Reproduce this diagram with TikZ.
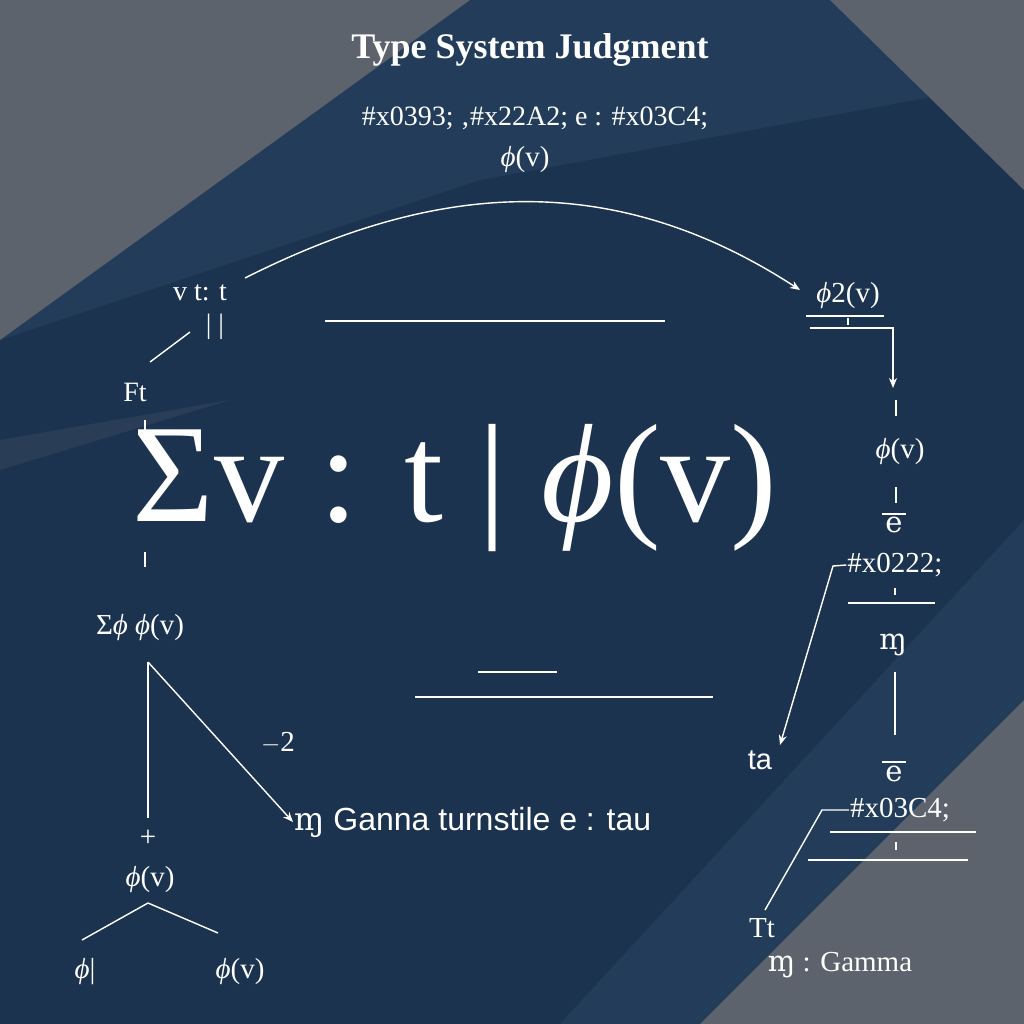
\documentclass[tikz,border=0pt]{standalone}
\usepackage{fontspec}
\setmainfont{Liberation Serif}
\newfontfamily\djs{DejaVu Serif}
\newfontfamily\lsans{Liberation Sans}
\usetikzlibrary{arrows.meta}
\definecolor{navy}{HTML}{1C3350}
\definecolor{band}{HTML}{223C5A}
\definecolor{gry}{HTML}{5C636C}
\newcommand{\ph}{{\itshape ϕ}}
\tikzset{ln/.style={white,line width=1.4pt},ar/.style={ln,-{Stealth[length=10pt,width=8pt]}},
t/.style={text=white,inner sep=1pt,font=\fontsize{26}{28}\selectfont},
tb/.style={t,font=\fontsize{29}{31}\selectfont}}
\begin{document}
\begin{tikzpicture}[x=1pt,y=-1pt]
\useasboundingbox (0,0) rectangle (1024,1024);
\fill[navy] (0,0) rectangle (1024,1024);
\fill[band] (0,340) -- (480,180) -- (1024,80) -- (1024,0) -- (0,0) -- cycle;
\fill[gry] (0,0) -- (470,0) -- (0,340) -- cycle;
\fill[gry] (830,0) -- (1024,0) -- (1024,190) -- cycle;
\fill[band] (560,1024) -- (1024,520) -- (1024,1024) -- cycle;
\fill[gry] (700,1024) -- (1024,700) -- (1024,1024) -- cycle;
\fill[navy!80!gry] (0,470) -- (230,400) -- (0,440) -- cycle;
\node[t,font=\fontsize{36}{38}\selectfont\bfseries] (title) at (530,50) {Type System Judgment};
\node[t,font=\fontsize{28}{30}\selectfont] (hdr) at (535,118) {\#x0393; ‚\#x22A2; e : \#x03C4;};
\node[tb] (top) at (525,160) {\ph(v)};
\node[t,font=\fontsize{28}{30}\selectfont] (vt) at (200,293) {v t: t};
\node[t,font=\fontsize{28}{30}\selectfont] (bars) at (215,327) {| |};
\coordinate (cs) at (245,278);
\node[tb] (p2) at (848,296) {\ph2(v)};
\draw[ar] (cs) .. controls (420,190) and (600,160) .. (800,290);
\draw[ln] (190,332) -- (150,362);
\node[t,font=\fontsize{28}{30}\selectfont] (ft) at (135,392) {Ft};
\draw[ln] (145,420) -- (145,436);
\node[text=white,font=\fontsize{140}{142}\selectfont] (big) at (455,488) {Σv : t | \ph(v)};
\draw[ln] (325,321) -- (665,321);
\draw[ln] (478,672) -- (557,672);
\draw[ln] (415,697) -- (713,697);
\draw[ln] (145,552) -- (145,567);
\node[t,font=\fontsize{30}{32}\selectfont] (in1) at (145,590) {∈};
\node[tb] (sp) at (140,628) {Σ\ph{} \ph(v)};
\coordinate (fork) at (148,662);
\node[tb,anchor=west,font=\fontsize{32}{34}\selectfont\lsans] (gan) at (293,822) {{\djs ɱ} Ganna turnstile e : tau};
\draw[ln] (fork) -- (148,818);
\draw[ar] (fork) -- (gan.west);
\node[tb] (m2) at (278,743) {$-$2};
\node[tb] (plus) at (148,838) {+};
\node[tb] (pb) at (150,880) {\ph(v)};
\draw[ln] (148,903) -- (82,940);
\draw[ln] (148,903) -- (218,933);
\node[tb] (pl) at (85,972) {\ph|};
\node[t,font=\fontsize{30}{32}\selectfont] (in2) at (228,944) {∈};
\node[tb] (pr) at (240,972) {\ph(v)};
% right column
\draw[ln] (848,318) -- (848,325);
\draw[ln] (806,316) -- (884,316);
\draw[ar] (810,328) -- (893,328) -- (893,388);
\draw[ln] (896,400) -- (896,416);
\node[tb] (pv) at (900,452) {\ph(v)};
\draw[ln] (896,487) -- (896,503);
\node[tb] (e1) at (894,525) {{\djs e}};
\draw[ln] (882,514) -- (906,514);
\node[tb] (x22) at (895,565) {\#x0222;};
\node[tb,font=\fontsize{29}{31}\selectfont\lsans] (ta) at (760,760) {ta};
\draw[ar] (x22.west) -- (833,566) -- (780,745);
\draw[ln] (895,588) -- (895,595);
\draw[ln] (848,603) -- (935,603);
\node[tb] (m1) at (893,645) {{\djs ɱ}};
\draw[ln] (895,672) -- (895,735);
\node[tb] (e2) at (894,774) {{\djs e}};
\draw[ln] (882,762) -- (906,762);
\node[tb] (x3c) at (900,810) {\#x03C4;};
\node[tb] (tt) at (762,928) {Tt};
\draw[ln] (x3c.west) -- (822,810) -- (765,910);
\draw[ln] (830,832) -- (976,832);
\draw[ln] (896,842) -- (896,850);
\draw[ln] (808,860) -- (968,860);
\node[tb] (gam) at (840,965) {{\djs ɱ} : Gamma};
\end{tikzpicture}
\end{document}
